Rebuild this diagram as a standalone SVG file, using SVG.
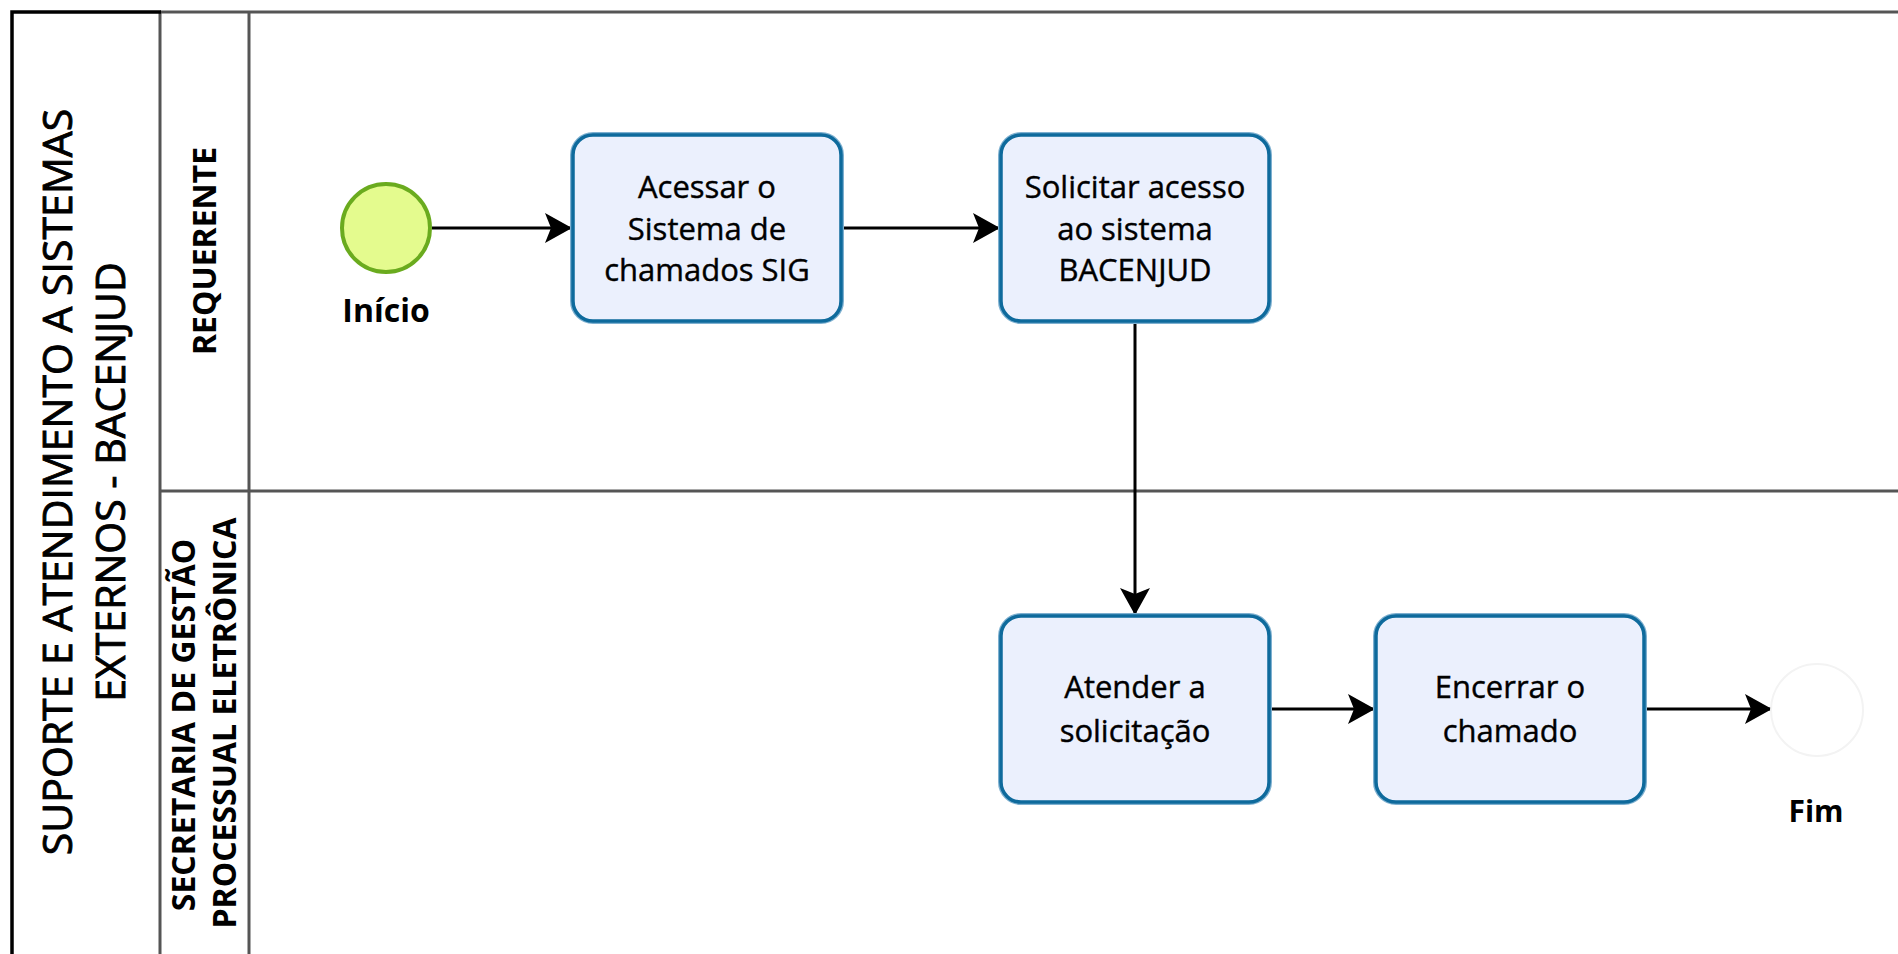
<svg xmlns="http://www.w3.org/2000/svg" width="1898" height="954" viewBox="0 0 1898 954">
<style>
.lane{stroke:#555;stroke-width:3;fill:none}
.pool{stroke:#000;stroke-width:3.5;fill:none}
.task-halo{fill:#ebf0fd;stroke:#7eb0d0;stroke-width:6}
.task{fill:#ebf0fd;stroke:#0e6a9c;stroke-width:3.5}
.tt{font-family:"Open Sans","Noto Sans",sans-serif;font-size:31px;fill:#000;stroke:#000;stroke-width:0.4;text-anchor:middle}
.lbl{font-family:"Open Sans","Noto Sans",sans-serif;font-weight:bold;fill:#000;text-anchor:middle}
.pt{font-family:"Open Sans","Noto Sans",sans-serif;font-size:41px;fill:#000;stroke:#000;stroke-width:0.9;text-anchor:middle}
.lt{font-family:"Open Sans","Noto Sans",sans-serif;font-size:32px;font-weight:bold;fill:#000;text-anchor:middle}
.flow{stroke:#000;stroke-width:3;fill:none}
</style>
<defs>
<marker id="arr" markerUnits="userSpaceOnUse" markerWidth="30" markerHeight="32" refX="26" refY="15" orient="auto" viewBox="0 0 30 32">
<path d="M0,0 L27,15 L0,30 L6,15 Z" fill="#000"/>
</marker>
</defs>
<rect width="1898" height="954" fill="#fff"/>
<g id="pool">
<line class="lane" x1="160" y1="12" x2="1898" y2="12"/>
<line class="lane" x1="160" y1="12" x2="160" y2="954"/>
<line class="lane" x1="249" y1="12" x2="249" y2="954"/>
<line class="lane" x1="160" y1="491" x2="1898" y2="491"/>
<path class="pool" d="M12,954 L12,12 L161,12"/>
<text class="pt" transform="translate(72,482) rotate(-90)">SUPORTE E ATENDIMENTO A SISTEMAS</text>
<text class="pt" transform="translate(125,482) rotate(-90)">EXTERNOS - BACENJUD</text>
</g>
<g id="lane-requerente">
<text class="lt" transform="translate(216,251) rotate(-90)">REQUERENTE</text>
</g>
<g id="lane-secretaria">
<text class="lt" transform="translate(195,725) rotate(-90)">SECRETARIA DE GESTÃO</text>
<text class="lt" transform="translate(236,723) rotate(-90)">PROCESSUAL ELETRÔNICA</text>
</g>
<g id="connectors">
<line class="flow" x1="432" y1="228" x2="571" y2="228" marker-end="url(#arr)"/>
<line class="flow" x1="843" y1="228" x2="999" y2="228" marker-end="url(#arr)"/>
<line class="flow" x1="1135" y1="322" x2="1135" y2="614" marker-end="url(#arr)"/>
<line class="flow" x1="1271" y1="709" x2="1374" y2="709" marker-end="url(#arr)"/>
<line class="flow" x1="1646" y1="709" x2="1771" y2="709" marker-end="url(#arr)"/>
</g>
<g id="start">
<circle cx="386" cy="228" r="44" fill="#e4fb8e" stroke="#6aab1e" stroke-width="4"/>
<text class="lbl" x="386" y="322" font-size="32">Início</text>
</g>
<g id="task1">
<rect class="task-halo" x="573" y="135" width="268" height="186" rx="20"/>
<rect class="task" x="573" y="135" width="268" height="186" rx="20"/>
<text class="tt" x="707" y="198">Acessar o</text>
<text class="tt" x="707" y="240">Sistema de</text>
<text class="tt" x="707" y="281">chamados SIG</text>
</g>
<g id="task2">
<rect class="task-halo" x="1001" y="135" width="268" height="186" rx="20"/>
<rect class="task" x="1001" y="135" width="268" height="186" rx="20"/>
<text class="tt" x="1135" y="198">Solicitar acesso</text>
<text class="tt" x="1135" y="240">ao sistema</text>
<text class="tt" x="1135" y="281">BACENJUD</text>
</g>
<g id="task3">
<rect class="task-halo" x="1001" y="616" width="268" height="186" rx="20"/>
<rect class="task" x="1001" y="616" width="268" height="186" rx="20"/>
<text class="tt" x="1135" y="698">Atender a</text>
<text class="tt" x="1135" y="742">solicitação</text>
</g>
<g id="task4">
<rect class="task-halo" x="1376" y="616" width="268" height="186" rx="20"/>
<rect class="task" x="1376" y="616" width="268" height="186" rx="20"/>
<text class="tt" x="1510" y="698">Encerrar o</text>
<text class="tt" x="1510" y="742">chamado</text>
</g>
<g id="end">
<circle cx="1817" cy="710" r="46" fill="#fff" stroke="#f3f3f3" stroke-width="2"/>
<text class="lbl" x="1816" y="822" font-size="30">Fim</text>
</g>
</svg>
